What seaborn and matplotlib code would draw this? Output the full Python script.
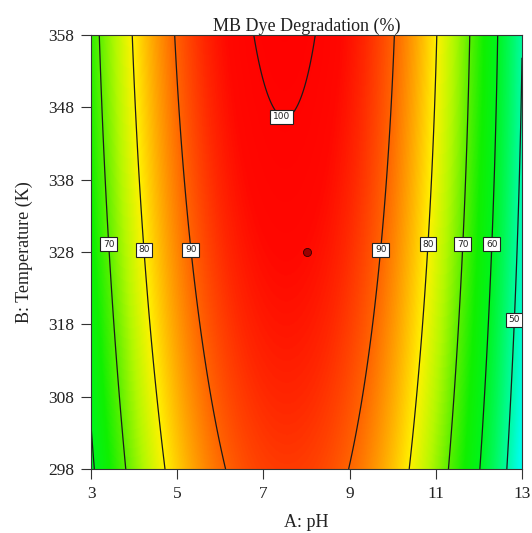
import numpy as np
import matplotlib
matplotlib.use("Agg")
import matplotlib.pyplot as plt
from matplotlib.colors import LinearSegmentedColormap, Normalize
import seaborn as sns

# ---- data ----
# Quadratic response-surface model (coded factors A=(pH-8)/5, B=(T-328)/30),
# coefficients read off the contour positions of the reference.
b0 = 97.665
bA = -8.016
bB = 3.675
bAB = -0.5
bAA = -41.75
bBB = -0.925

ph_range = [3, 13]
temp_range = [298, 358]
ph_ticks = [3, 5, 7, 9, 11, 13]
temp_ticks = [298, 308, 318, 328, 338, 348, 358]
contour_levels = [50, 60, 70, 80, 90, 100]
design_point_ph = [8]
design_point_temp = [328]

# contour label positions (pH, T)
label_ph = [3.40, 4.24, 5.32, 9.70, 10.81, 11.62, 12.28, 7.45, 12.82]
label_temp = [329.1, 328.3, 328.3, 328.3, 329.1, 329.1, 329.1, 347.0, 318.6]

# colour scale nodes (value, colour)
cmap_values = [40, 45, 50, 55, 60, 65, 70, 75, 80, 85, 90, 95, 98, 102]
cmap_colors = ["#00ffff", "#00fde6", "#00fb9e", "#00f958", "#00f51c", "#10f000",
               "#5cf000", "#b4f800", "#fff200", "#ffaa00", "#ff6400", "#ff2800",
               "#ff0800", "#ff0000"]

# ---- style ----
sns.set_style("ticks")
plt.rcParams["font.family"] = ["Liberation Serif", "DejaVu Serif"]

fig = plt.figure(figsize=(5.32, 5.33), dpi=100)
ax = fig.add_axes([91 / 532, (533 - 469) / 533, 431 / 532, 434 / 533])

ph = np.linspace(ph_range[0], ph_range[1], 500)
temp = np.linspace(temp_range[0], temp_range[1], 500)
PH, TT = np.meshgrid(ph, temp)
A = (PH - 8) / 5
B = (TT - 328) / 30
Z = b0 + bA * A + bB * B + bAB * A * B + bAA * A ** 2 + bBB * B ** 2

vmin, vmax = cmap_values[0], cmap_values[-1]
nodes = [(v - vmin) / (vmax - vmin) for v in cmap_values]
cmap = LinearSegmentedColormap.from_list("de", list(zip(nodes, cmap_colors)))

ax.imshow(Z, extent=[ph_range[0], ph_range[1], temp_range[0], temp_range[1]],
          origin="lower", aspect="auto", cmap=cmap,
          norm=Normalize(vmin=vmin, vmax=vmax), interpolation="bilinear")

cs = ax.contour(PH, TT, Z, levels=contour_levels, colors="#1a1a1a", linewidths=0.9)
labels = ax.clabel(cs, fmt="%d", manual=list(zip(label_ph, label_temp)),
                   inline=False, fontsize=6.5)
for t in labels:
    t.set_rotation(0)
    t.set_family("DejaVu Sans")
    t.set_color("#222222")
    t.set_zorder(5)
    t.set_bbox(dict(boxstyle="square,pad=0.3", fc="white", ec="#222222", lw=0.8))

sns.scatterplot(x=design_point_ph, y=design_point_temp, ax=ax, s=34,
                color="#9a0000", edgecolor="#300000", linewidth=0.6, zorder=6,
                legend=False)

ax.set_xlim(ph_range)
ax.set_ylim(temp_range)
ax.set_xticks(ph_ticks)
ax.set_yticks(temp_ticks)
ax.tick_params(axis="both", direction="out", length=7.5, width=0.8,
               labelsize=12.5, colors="#333333", labelcolor="#222222")
ax.tick_params(axis="x", pad=4.5)
ax.tick_params(axis="y", pad=4.5)
for s in ax.spines.values():
    s.set_linewidth(0.8)
    s.set_color("#333333")
    s.set_visible(True)

ax.set_title("MB Dye Degradation (%)", fontsize=13, pad=2, color="#222222")
ax.set_xlabel("A: pH", fontsize=13, color="#222222")
ax.set_ylabel("B: Temperature (K)", fontsize=13, color="#222222")
ax.xaxis.set_label_coords(0.5, -0.103)
ax.yaxis.set_label_coords(-0.135, 0.5)

fig.savefig("out.png", dpi=100)
